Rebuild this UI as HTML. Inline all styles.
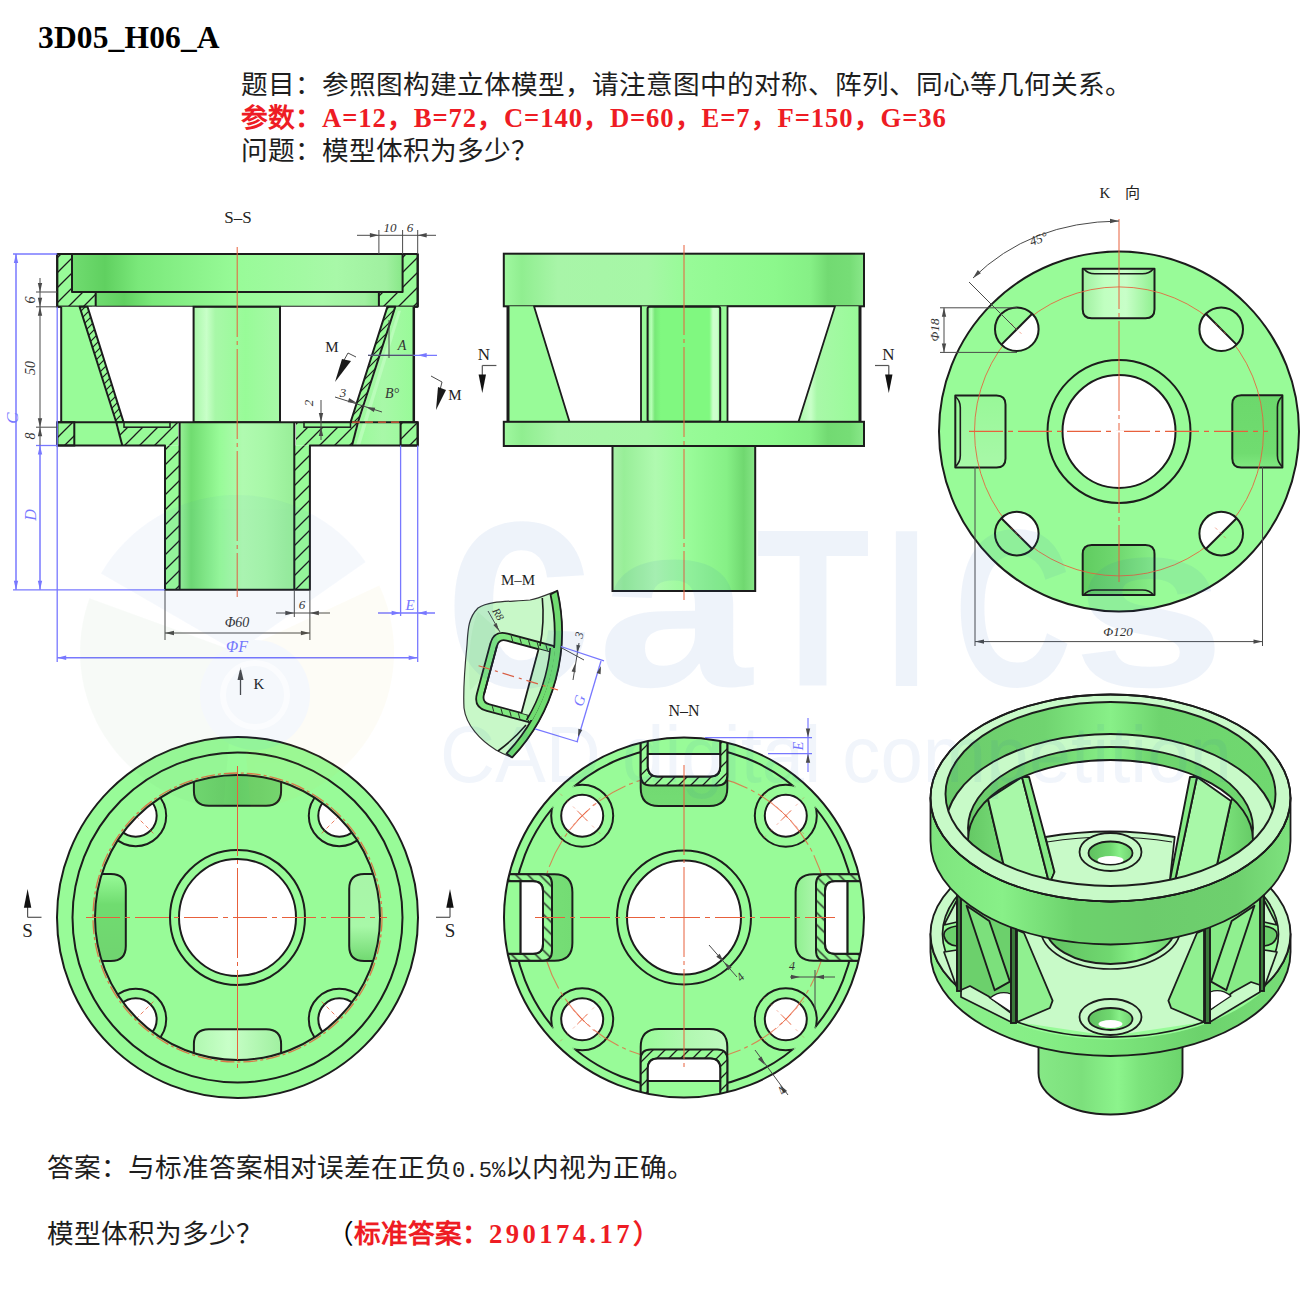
<!DOCTYPE html>
<html lang="zh-CN"><head><meta charset="utf-8">
<style>
html,body{margin:0;padding:0;background:#fff;}
body{width:1300px;height:1293px;position:relative;overflow:hidden;font-family:"Liberation Serif",serif;}
.t{position:absolute;white-space:pre;line-height:1;}
.cj{font-size:26.67px;color:#1e1e1e;}
.red{color:#ee1c24;}
.mono{font-family:"Liberation Serif",serif;font-weight:bold;letter-spacing:0.9px;}
.ttl{font-family:"Liberation Serif",serif;font-weight:bold;letter-spacing:0.15px;}
.hw{font-family:"Liberation Mono",monospace;font-size:22.2px;}
svg{position:absolute;left:0;top:0;}
</style></head><body>
<svg width="1300" height="1293" viewBox="0 0 1300 1293" style="font-family:'Liberation Serif',serif"><defs><pattern id="hat" patternUnits="userSpaceOnUse" width="15" height="15"><rect width="15" height="15" fill="#98fb98"/><path d="M0,15 L15,0 M-1,1 L1,-1 M14,16 L16,14" stroke="#1c1c1c" stroke-width="1.3"/></pattern><pattern id="hat2" patternUnits="userSpaceOnUse" width="8" height="8"><rect width="8" height="8" fill="#98fb98"/><path d="M0,8 L8,0 M-1,1 L1,-1 M7,9 L9,7" stroke="#1c1c1c" stroke-width="1.2"/></pattern><pattern id="hatN" patternUnits="userSpaceOnUse" width="12" height="12"><rect width="12" height="12" fill="#98fb98"/><path d="M0,12 L12,0 M-1,1 L1,-1 M11,13 L13,11" stroke="#1c1c1c" stroke-width="1.3"/></pattern><linearGradient id="gband" x1="0" y1="0" x2="1" y2="0"><stop offset="0" stop-color="#a0f8a0"/><stop offset="0.05" stop-color="#90ee90"/><stop offset="0.15" stop-color="#a8f5a8"/><stop offset="0.4" stop-color="#a6f7a6"/><stop offset="0.5" stop-color="#98fb98"/><stop offset="0.75" stop-color="#8cf88c"/><stop offset="0.85" stop-color="#86f086"/><stop offset="0.9" stop-color="#72da72"/><stop offset="0.96" stop-color="#76dd76"/><stop offset="1" stop-color="#8ae88a"/></linearGradient><linearGradient id="gtube" x1="0" y1="0" x2="1" y2="0"><stop offset="0" stop-color="#a8f0a8"/><stop offset="0.08" stop-color="#98ee98"/><stop offset="0.3" stop-color="#b0fab0"/><stop offset="0.55" stop-color="#98fb98"/><stop offset="0.8" stop-color="#86f086"/><stop offset="0.92" stop-color="#70d870"/><stop offset="1" stop-color="#86e686"/></linearGradient><linearGradient id="gcol" x1="0" y1="0" x2="1" y2="0"><stop offset="0" stop-color="#80f880"/><stop offset="0.05" stop-color="#b8ffb8"/><stop offset="0.1" stop-color="#78e878"/><stop offset="0.18" stop-color="#80f880"/><stop offset="0.85" stop-color="#80f880"/><stop offset="0.9" stop-color="#ccffcc"/><stop offset="0.96" stop-color="#ccffcc"/><stop offset="1" stop-color="#80f880"/></linearGradient><linearGradient id="gflS" x1="0" y1="0" x2="1" y2="0"><stop offset="0" stop-color="#70dc70"/><stop offset="0.1" stop-color="#60d060"/><stop offset="0.2" stop-color="#7ae87a"/><stop offset="0.5" stop-color="#98fb98"/><stop offset="0.8" stop-color="#a8f8a8"/><stop offset="0.95" stop-color="#a0f0a0"/><stop offset="1" stop-color="#88e888"/></linearGradient><linearGradient id="gtubeS" x1="0" y1="0" x2="1" y2="0"><stop offset="0" stop-color="#98f098"/><stop offset="0.1" stop-color="#70dc70"/><stop offset="0.35" stop-color="#98fb98"/><stop offset="0.55" stop-color="#b0fab0"/><stop offset="0.75" stop-color="#a8f8a8"/><stop offset="1" stop-color="#98ee98"/></linearGradient><linearGradient id="grib" x1="0" y1="0" x2="1" y2="0"><stop offset="0" stop-color="#98fb98"/><stop offset="0.5" stop-color="#a8f8a8"/><stop offset="1" stop-color="#98fb98"/></linearGradient><linearGradient id="gutubeS" x1="0" y1="0" x2="1" y2="0"><stop offset="0" stop-color="#a8f8a8"/><stop offset="0.15" stop-color="#c8ffc8"/><stop offset="0.25" stop-color="#a8f8a8"/><stop offset="0.6" stop-color="#98fb98"/><stop offset="1" stop-color="#a8f8a8"/></linearGradient><linearGradient id="gslotL" x1="0" y1="0" x2="1" y2="0"><stop offset="0" stop-color="#a0f0a0"/><stop offset="0.3" stop-color="#c0ffc0"/><stop offset="0.6" stop-color="#c8ffc8"/><stop offset="1" stop-color="#90f090"/></linearGradient><linearGradient id="gslotL2" x1="0" y1="0" x2="0" y2="1"><stop offset="0" stop-color="#98f898"/><stop offset="1" stop-color="#a8f8a8"/></linearGradient><linearGradient id="gslotD" x1="0" y1="0" x2="0" y2="1"><stop offset="0" stop-color="#6cd86c"/><stop offset="0.8" stop-color="#70dc70"/><stop offset="1" stop-color="#80e880"/></linearGradient><linearGradient id="gslotD2" x1="0" y1="0" x2="1" y2="0"><stop offset="0" stop-color="#60cc60"/><stop offset="0.5" stop-color="#70d870"/><stop offset="1" stop-color="#88ee88"/></linearGradient><linearGradient id="gTVtop" x1="0" y1="0" x2="1" y2="0"><stop offset="0" stop-color="#70d870"/><stop offset="0.5" stop-color="#66cc66"/><stop offset="1" stop-color="#70d870"/></linearGradient><linearGradient id="gTVbot" x1="0" y1="0" x2="1" y2="0"><stop offset="0" stop-color="#b0f8b0"/><stop offset="0.4" stop-color="#c8ffc8"/><stop offset="1" stop-color="#a0f0a0"/></linearGradient><linearGradient id="gTVleft" x1="0" y1="0" x2="0" y2="1"><stop offset="0" stop-color="#98fb98"/><stop offset="0.35" stop-color="#70dc70"/><stop offset="1" stop-color="#70d470"/></linearGradient><linearGradient id="gTVright" x1="0" y1="0" x2="0" y2="1"><stop offset="0" stop-color="#a8f5a8"/><stop offset="0.6" stop-color="#a8f8a8"/><stop offset="1" stop-color="#70d870"/></linearGradient><linearGradient id="gNNdark" x1="0" y1="0" x2="0" y2="1"><stop offset="0" stop-color="#6cd46c"/><stop offset="1" stop-color="#74dc74"/></linearGradient><linearGradient id="gNNdarkL" x1="0" y1="0" x2="0" y2="1"><stop offset="0" stop-color="#98fb98"/><stop offset="0.3" stop-color="#78e078"/><stop offset="1" stop-color="#74dc74"/></linearGradient><linearGradient id="gNNlight" x1="0" y1="0" x2="1" y2="0"><stop offset="0" stop-color="#c0fac0"/><stop offset="0.5" stop-color="#b0f8b0"/><stop offset="1" stop-color="#98fb98"/></linearGradient><linearGradient id="gNNlight2" x1="0" y1="0" x2="0" y2="1"><stop offset="0" stop-color="#98fb98"/><stop offset="0.5" stop-color="#c0fac0"/><stop offset="1" stop-color="#90f090"/></linearGradient><linearGradient id="g3tube" x1="0" y1="0" x2="1" y2="0"><stop offset="0" stop-color="#86e886"/><stop offset="0.3" stop-color="#7ce07c"/><stop offset="0.55" stop-color="#8cf48c"/><stop offset="0.7" stop-color="#7ce47c"/><stop offset="1" stop-color="#6cd46c"/></linearGradient><linearGradient id="g3side" x1="0" y1="0" x2="1" y2="0"><stop offset="0" stop-color="#8cf08c"/><stop offset="0.3" stop-color="#86ee86"/><stop offset="0.5" stop-color="#7ce67c"/><stop offset="0.75" stop-color="#6cd26c"/><stop offset="1" stop-color="#78de78"/></linearGradient><linearGradient id="g3ring" x1="0" y1="0" x2="1" y2="0"><stop offset="0" stop-color="#7ee47e"/><stop offset="0.2" stop-color="#88f088"/><stop offset="0.4" stop-color="#6cd26c"/><stop offset="0.6" stop-color="#6ccc6c"/><stop offset="0.85" stop-color="#6ed06e"/><stop offset="1" stop-color="#7ee27e"/></linearGradient><linearGradient id="g3inner" x1="0" y1="0" x2="1" y2="0"><stop offset="0" stop-color="#6ccc6c"/><stop offset="0.3" stop-color="#70d470"/><stop offset="0.5" stop-color="#88f088"/><stop offset="0.65" stop-color="#6ed46e"/><stop offset="1" stop-color="#70d870"/></linearGradient><linearGradient id="g3hole" x1="0" y1="0" x2="1" y2="0"><stop offset="0" stop-color="#60c060"/><stop offset="0.5" stop-color="#70d870"/><stop offset="0.7" stop-color="#88f088"/><stop offset="1" stop-color="#70d070"/></linearGradient><linearGradient id="g3coneL" x1="0" y1="0" x2="1" y2="0"><stop offset="0" stop-color="#60c460"/><stop offset="1" stop-color="#78dc78"/></linearGradient><linearGradient id="g3coneR" x1="0" y1="0" x2="1" y2="0"><stop offset="0" stop-color="#80e880"/><stop offset="1" stop-color="#60c460"/></linearGradient><linearGradient id="gutube" x1="0" y1="0" x2="1" y2="0"><stop offset="0" stop-color="#a8f8a8"/><stop offset="0.2" stop-color="#c8ffc8"/><stop offset="0.3" stop-color="#a8f8a8"/><stop offset="1" stop-color="#98fb98"/></linearGradient><clipPath id="clipTV"><circle cx="237.5" cy="917.5" r="142.5"/></clipPath><clipPath id="clipNN"><circle cx="684" cy="917.5" r="180"/></clipPath><clipPath id="clipNN171"><circle cx="684" cy="917.5" r="171"/></clipPath><mask id="maskNN" maskUnits="userSpaceOnUse" x="0" y="0" width="1300" height="1293"><rect width="1300" height="1293" fill="#fff"/><circle cx="785.8" cy="815.7" r="31" fill="#000"/><circle cx="582.2" cy="815.7" r="31" fill="#000"/><circle cx="582.2" cy="1019.3" r="31" fill="#000"/><circle cx="785.8" cy="1019.3" r="31" fill="#000"/></mask><clipPath id="clipMM"><path d="M557.3,590.7 C548,594 540,598 530,600 C510,602 490,600 478,608 C468,618 468,630 467,645 C465,665 463,690 464,708 C466,725 480,740 496,750 C503,754 508,756 512.2,757.4 A183,183 0 0 0 557.3,590.7 Z"/></clipPath><clipPath id="clipE2"><ellipse cx="1110.5" cy="794" rx="165" ry="92"/></clipPath><clipPath id="clipE5"><ellipse cx="1110.5" cy="840" rx="142.5" ry="80"/></clipPath></defs><rect x="503.8" y="253.7" width="360.2" height="52.6" rx="0" fill="url(#gband)" stroke="#1c1c1c" stroke-width="2" /><polygon points="508.0,306.3 534.0,306.3 569.5,421.8 508.0,421.8" fill="#98fb98" stroke="#1c1c1c" stroke-width="0" stroke-linejoin="round" stroke="none"/><polygon points="835.0,306.3 860.0,306.3 860.0,421.8 798.5,421.8" fill="url(#gutube)" stroke="#1c1c1c" stroke-width="0" stroke-linejoin="round" stroke="none"/><rect x="641.0" y="306.3" width="86.5" height="115.5" rx="0" fill="#98fb98" stroke="#1c1c1c" stroke-width="0" stroke="none"/><polygon points="534.0,306.3 641.0,306.3 641.0,421.8 569.5,421.8" fill="#fff" stroke="#1c1c1c" stroke-width="1.8" stroke-linejoin="round" /><polygon points="727.5,306.3 835.0,306.3 798.5,421.8 727.5,421.8" fill="#fff" stroke="#1c1c1c" stroke-width="1.8" stroke-linejoin="round" /><rect x="647.6" y="306.8" width="72.6" height="115.0" rx="2" fill="url(#gcol)" stroke="#1c1c1c" stroke-width="2" /><line x1="508.0" y1="306.0" x2="508.0" y2="422.0" stroke="#1c1c1c" stroke-width="3" /><line x1="860.0" y1="306.0" x2="860.0" y2="422.0" stroke="#1c1c1c" stroke-width="3" /><rect x="503.8" y="421.8" width="360.2" height="24.2" rx="0" fill="url(#gband)" stroke="#1c1c1c" stroke-width="2" /><rect x="612.5" y="446.0" width="142.7" height="145.0" rx="0" fill="url(#gtube)" stroke="#1c1c1c" stroke-width="2" /><line x1="684.0" y1="245.0" x2="684.0" y2="600.0" stroke="#e8603c" stroke-width="1" stroke-dasharray="90 4 4 4"/><line x1="482.3" y1="365.5" x2="496.4" y2="365.5" stroke="#555" stroke-width="1.2" /><line x1="482.3" y1="365.5" x2="482.3" y2="375.0" stroke="#555" stroke-width="1.2" /><polygon points="478.6,374.5 486.0,374.5 482.3,393" fill="#111"/><text x="483.8" y="360.0" font-size="17" fill="#222" text-anchor="middle" style="" >N</text><line x1="888.8" y1="365.5" x2="875.0" y2="365.5" stroke="#555" stroke-width="1.2" /><line x1="888.8" y1="365.5" x2="888.8" y2="375.0" stroke="#555" stroke-width="1.2" /><polygon points="885.0999999999999,374.5 892.5,374.5 888.8,393" fill="#111"/><text x="888.3" y="360.0" font-size="17" fill="#222" text-anchor="middle" style="" >N</text><rect x="72.0" y="254.0" width="330.6" height="38.0" rx="0" fill="url(#gflS)" stroke="#1c1c1c" stroke-width="0" stroke="none"/><rect x="95.7" y="292.0" width="283.2" height="14.8" rx="0" fill="url(#gflS)" stroke="#1c1c1c" stroke-width="0" stroke="none"/><polygon points="57.2,254.0 72.0,254.0 72.0,292.0 95.7,292.0 95.7,306.8 57.2,306.8" fill="url(#hat)" stroke="#1c1c1c" stroke-width="2" stroke-linejoin="round" /><polygon points="417.7,254.0 402.6,254.0 402.6,292.0 378.9,292.0 378.9,306.8 417.7,306.8" fill="url(#hat)" stroke="#1c1c1c" stroke-width="2" stroke-linejoin="round" /><line x1="72.0" y1="292.0" x2="402.6" y2="292.0" stroke="#1c1c1c" stroke-width="2" /><line x1="57.2" y1="254.0" x2="417.7" y2="254.0" stroke="#1c1c1c" stroke-width="2" /><line x1="57.2" y1="306.8" x2="417.7" y2="306.8" stroke="#1c1c1c" stroke-width="2" /><polygon points="61.2,306.8 79.6,306.8 122.3,445.5 61.2,445.5" fill="#98fb98" stroke="#1c1c1c" stroke-width="0" stroke-linejoin="round" stroke="none"/><polygon points="413.8,306.8 395.3,306.8 352.0,445.5 413.8,445.5" fill="url(#grib)" stroke="#1c1c1c" stroke-width="0" stroke-linejoin="round" stroke="none"/><polygon points="92.0,306.8 96.0,306.8 124.0,440.5 120.0,440.5" fill="#c8ffc8" stroke="#1c1c1c" stroke-width="0" stroke-linejoin="round" stroke="none" opacity="0.6"/><polygon points="398.0,310.8 401.0,310.8 360.0,445.5 356.0,445.5" fill="#c8ffc8" stroke="#1c1c1c" stroke-width="0" stroke-linejoin="round" stroke="none" opacity="0.6"/><polygon points="87.5,306.8 193.6,306.8 193.6,422.2 123.6,422.2" fill="#fff" stroke="#1c1c1c" stroke-width="0" stroke-linejoin="round" stroke="none"/><polygon points="387.4,306.8 280.0,306.8 280.0,422.2 350.6,422.2" fill="#fff" stroke="#1c1c1c" stroke-width="0" stroke-linejoin="round" stroke="none"/><rect x="193.6" y="306.8" width="86.4" height="115.4" rx="0" fill="url(#gutubeS)" stroke="#1c1c1c" stroke-width="2" /><polygon points="79.6,306.8 87.5,306.8 123.6,422.2 116.2,422.2" fill="url(#hat2)" stroke="#1c1c1c" stroke-width="2" stroke-linejoin="round" /><polygon points="395.3,306.8 387.4,306.8 350.6,422.2 358.0,422.2" fill="url(#hat2)" stroke="#1c1c1c" stroke-width="2" stroke-linejoin="round" /><polygon points="116.2,422.2 178.2,422.2 178.2,445.5 122.3,445.5" fill="url(#hat)" stroke="#1c1c1c" stroke-width="0" stroke-linejoin="round" stroke="none"/><polygon points="358.0,422.2 296.0,422.2 296.0,445.5 352.0,445.5" fill="url(#hat)" stroke="#1c1c1c" stroke-width="0" stroke-linejoin="round" stroke="none"/><rect x="124.0" y="422.2" width="46.0" height="5.0" rx="0" fill="#98fb98" stroke="#1c1c1c" stroke-width="1.5" /><rect x="304.0" y="422.2" width="46.5" height="5.0" rx="0" fill="#98fb98" stroke="#1c1c1c" stroke-width="1.5" /><rect x="57.2" y="422.2" width="17.1" height="23.3" rx="0" fill="url(#hat)" stroke="#1c1c1c" stroke-width="2" /><rect x="400.6" y="422.2" width="17.1" height="23.3" rx="0" fill="url(#hat)" stroke="#1c1c1c" stroke-width="2" /><rect x="179.6" y="422.2" width="114.7" height="167.6" rx="0" fill="url(#gtubeS)" stroke="#1c1c1c" stroke-width="0" stroke="none"/><rect x="165.0" y="445.5" width="14.6" height="144.3" rx="0" fill="url(#hat)" stroke="#1c1c1c" stroke-width="0" stroke="none"/><rect x="294.3" y="445.5" width="15.6" height="144.3" rx="0" fill="url(#hat)" stroke="#1c1c1c" stroke-width="0" stroke="none"/><path d="M57.2,422.2 L417.7,422.2" fill="none" stroke="#1c1c1c" stroke-width="2" stroke-linejoin="round" /><path d="M57.2,445.5 L165,445.5 L165,589.8 L309.9,589.8 L309.9,445.5 L417.7,445.5" fill="none" stroke="#1c1c1c" stroke-width="2" stroke-linejoin="round" /><line x1="179.6" y1="422.2" x2="179.6" y2="589.8" stroke="#1c1c1c" stroke-width="2" /><line x1="294.3" y1="422.2" x2="294.3" y2="589.8" stroke="#1c1c1c" stroke-width="2" /><line x1="122.3" y1="445.5" x2="116.2" y2="422.2" stroke="#1c1c1c" stroke-width="2" /><line x1="352.0" y1="445.5" x2="358.0" y2="422.2" stroke="#1c1c1c" stroke-width="2" /><line x1="61.2" y1="306.8" x2="61.2" y2="422.2" stroke="#1c1c1c" stroke-width="2" /><line x1="413.8" y1="306.8" x2="413.8" y2="422.2" stroke="#1c1c1c" stroke-width="2.5" /><line x1="57.2" y1="422.2" x2="57.2" y2="445.5" stroke="#1c1c1c" stroke-width="2" /><line x1="417.7" y1="422.2" x2="417.7" y2="445.5" stroke="#1c1c1c" stroke-width="2" /><line x1="57.2" y1="254.0" x2="57.2" y2="306.8" stroke="#1c1c1c" stroke-width="2" /><line x1="417.7" y1="254.0" x2="417.7" y2="306.8" stroke="#1c1c1c" stroke-width="2" /><line x1="352.0" y1="422.2" x2="400.0" y2="422.2" stroke="#e8603c" stroke-width="1.2" stroke-dasharray="8 5"/><line x1="237.2" y1="247.0" x2="237.2" y2="597.0" stroke="#e8603c" stroke-width="1" stroke-dasharray="90 4 4 4"/><line x1="13.0" y1="254.0" x2="57.2" y2="254.0" stroke="#7878ff" stroke-width="1.3" /><line x1="13.0" y1="589.8" x2="165.0" y2="589.8" stroke="#7878ff" stroke-width="1.3" /><line x1="16.0" y1="254.0" x2="16.0" y2="589.8" stroke="#7878ff" stroke-width="1.5" /><polygon points="16.0,254.0 18.2,263.0 13.8,263.0" fill="#7878ff"/><polygon points="16.0,589.8 13.8,580.8 18.2,580.8" fill="#7878ff"/><text x="18.0" y="418.0" font-size="17" fill="#7878ff" text-anchor="middle" style="" transform="rotate(-90 18 418)" font-style="italic">C</text><line x1="57.2" y1="306.8" x2="57.2" y2="662.0" stroke="#7878ff" stroke-width="1.3" /><line x1="36.0" y1="292.0" x2="57.2" y2="292.0" stroke="#4a4a4a" stroke-width="1" /><line x1="36.0" y1="306.8" x2="57.2" y2="306.8" stroke="#4a4a4a" stroke-width="1" /><line x1="36.0" y1="427.2" x2="57.2" y2="427.2" stroke="#4a4a4a" stroke-width="1" /><line x1="36.0" y1="445.5" x2="57.2" y2="445.5" stroke="#7878ff" stroke-width="1.3" /><line x1="40.0" y1="278.0" x2="40.0" y2="427.2" stroke="#4a4a4a" stroke-width="1" /><polygon points="40.0,292.0 37.8,283.0 42.2,283.0" fill="#4a4a4a"/><polygon points="40.0,306.8 42.2,315.8 37.8,315.8" fill="#4a4a4a"/><polygon points="40.0,306.8 37.8,297.8 42.2,297.8" fill="#4a4a4a"/><polygon points="40.0,427.2 37.8,418.2 42.2,418.2" fill="#4a4a4a"/><polygon points="40.0,427.2 42.2,436.2 37.8,436.2" fill="#4a4a4a"/><line x1="40.0" y1="427.2" x2="40.0" y2="445.5" stroke="#4a4a4a" stroke-width="1" /><text x="35.0" y="300.0" font-size="14" fill="#333" text-anchor="middle" style="" transform="rotate(-90 35 300)" font-style="italic">6</text><text x="35.0" y="368.0" font-size="14" fill="#333" text-anchor="middle" style="" transform="rotate(-90 35 368)" font-style="italic">50</text><text x="35.0" y="436.0" font-size="14" fill="#333" text-anchor="middle" style="" transform="rotate(-90 35 436)" font-style="italic">8</text><line x1="40.0" y1="445.5" x2="40.0" y2="589.8" stroke="#7878ff" stroke-width="1.5" /><polygon points="40.0,445.5 42.2,454.5 37.8,454.5" fill="#7878ff"/><polygon points="40.0,589.8 37.8,580.8 42.2,580.8" fill="#7878ff"/><text x="36.0" y="515.0" font-size="16" fill="#7878ff" text-anchor="middle" style="" transform="rotate(-90 36 515)" font-style="italic">D</text><line x1="165.0" y1="589.8" x2="165.0" y2="640.0" stroke="#4a4a4a" stroke-width="1" /><line x1="309.9" y1="589.8" x2="309.9" y2="640.0" stroke="#4a4a4a" stroke-width="1" /><line x1="165.0" y1="633.0" x2="309.9" y2="633.0" stroke="#4a4a4a" stroke-width="1" /><polygon points="165.0,633.0 174.0,630.8 174.0,635.2" fill="#4a4a4a"/><polygon points="309.9,633.0 300.9,635.2 300.9,630.8" fill="#4a4a4a"/><text x="237.0" y="627.0" font-size="14" fill="#333" text-anchor="middle" style="" font-style="italic">Φ60</text><line x1="294.3" y1="589.8" x2="294.3" y2="617.0" stroke="#4a4a4a" stroke-width="1" /><line x1="276.0" y1="613.0" x2="330.0" y2="613.0" stroke="#4a4a4a" stroke-width="1" /><polygon points="294.3,613.0 285.3,615.2 285.3,610.8" fill="#4a4a4a"/><polygon points="309.9,613.0 318.9,610.8 318.9,615.2" fill="#4a4a4a"/><text x="302.0" y="609.0" font-size="13" fill="#333" text-anchor="middle" style="" font-style="italic">6</text><line x1="400.6" y1="445.5" x2="400.6" y2="616.0" stroke="#7878ff" stroke-width="1.3" /><line x1="417.7" y1="445.5" x2="417.7" y2="662.0" stroke="#7878ff" stroke-width="1.3" /><line x1="378.0" y1="613.0" x2="435.0" y2="613.0" stroke="#7878ff" stroke-width="1.3" /><polygon points="400.6,613.0 391.6,615.2 391.6,610.8" fill="#7878ff"/><polygon points="417.7,613.0 426.7,610.8 426.7,615.2" fill="#7878ff"/><text x="410.0" y="610.0" font-size="15" fill="#7878ff" text-anchor="middle" style="" font-style="italic">E</text><line x1="57.2" y1="657.7" x2="417.7" y2="657.7" stroke="#7878ff" stroke-width="1.5" /><polygon points="57.2,657.7 66.2,655.5 66.2,659.9" fill="#7878ff"/><polygon points="417.7,657.7 408.7,659.9 408.7,655.5" fill="#7878ff"/><text x="237.0" y="652.0" font-size="16" fill="#7878ff" text-anchor="middle" style="" font-style="italic">ΦF</text><line x1="378.9" y1="230.0" x2="378.9" y2="254.0" stroke="#4a4a4a" stroke-width="1" /><line x1="402.6" y1="230.0" x2="402.6" y2="254.0" stroke="#4a4a4a" stroke-width="1" /><line x1="417.7" y1="230.0" x2="417.7" y2="254.0" stroke="#4a4a4a" stroke-width="1" /><line x1="357.0" y1="235.3" x2="436.0" y2="235.3" stroke="#4a4a4a" stroke-width="1" /><polygon points="378.9,235.3 369.9,237.5 369.9,233.1" fill="#4a4a4a"/><polygon points="417.7,235.3 426.7,233.1 426.7,237.5" fill="#4a4a4a"/><text x="390.0" y="232.0" font-size="13" fill="#333" text-anchor="middle" style="" font-style="italic">10</text><text x="410.0" y="232.0" font-size="13" fill="#333" text-anchor="middle" style="" font-style="italic">6</text><line x1="368.0" y1="355.3" x2="437.0" y2="355.3" stroke="#7878ff" stroke-width="1.3" /><line x1="368.0" y1="355.3" x2="413.8" y2="355.3" stroke="#4a4a4a" stroke-width="1" /><polygon points="417.7,355.3 426.7,353.1 426.7,357.5" fill="#7878ff"/><line x1="389.0" y1="320.0" x2="389.0" y2="358.0" stroke="#4a4a4a" stroke-width="1" /><text x="402.0" y="350.0" font-size="14" fill="#333" text-anchor="middle" style="" font-style="italic">A</text><text x="392.0" y="398.0" font-size="14" fill="#333" text-anchor="middle" style="" font-style="italic">B°</text><line x1="335.0" y1="397.0" x2="382.0" y2="412.0" stroke="#4a4a4a" stroke-width="1" /><polygon points="357.0,403.0 347.8,402.3 349.1,398.1" fill="#4a4a4a"/><polygon points="366.0,407.0 375.2,407.7 373.9,411.9" fill="#4a4a4a"/><text x="343.0" y="397.0" font-size="13" fill="#333" text-anchor="middle" style="" font-style="italic">3</text><line x1="321.0" y1="400.0" x2="321.0" y2="440.0" stroke="#4a4a4a" stroke-width="1" /><polygon points="321.0,422.0 318.8,413.0 323.2,413.0" fill="#4a4a4a"/><polygon points="321.0,427.0 323.2,436.0 318.8,436.0" fill="#4a4a4a"/><text x="313.0" y="403.0" font-size="13" fill="#333" text-anchor="middle" style="" font-style="italic" transform="rotate(-90 313 403)">2</text><path d="M343,362 L348,353 L356,357" fill="none" stroke="#4a4a4a" stroke-width="1" stroke-linejoin="round" /><polygon points="351,361 342,359 335,382" fill="#1a1a1a"/><text x="332.0" y="352.0" font-size="15" fill="#222" text-anchor="middle" style="" >M</text><path d="M431,376 L442,382 L440,390" fill="none" stroke="#4a4a4a" stroke-width="1" stroke-linejoin="round" /><polygon points="446,390 438,387 436,410" fill="#1a1a1a"/><text x="455.0" y="400.0" font-size="15" fill="#222" text-anchor="middle" style="" >M</text><line x1="240.5" y1="675.0" x2="240.5" y2="695.0" stroke="#4a4a4a" stroke-width="1.3" /><polygon points="240.5,667.0 243.5,680.0 237.5,680.0" fill="#4a4a4a"/><text x="259.0" y="689.0" font-size="15" fill="#222" text-anchor="middle" style="" >K</text><text x="238.0" y="223.0" font-size="17" fill="#222" text-anchor="middle" style="" >S–S</text><circle cx="1119.0" cy="431.4" r="180.0" fill="#98fb98" stroke="#1c1c1c" stroke-width="2" /><circle cx="1119.0" cy="431.4" r="71.5" fill="#98fb98" stroke="#1c1c1c" stroke-width="2" /><circle cx="1119.0" cy="431.4" r="56.5" fill="#fff" stroke="#1c1c1c" stroke-width="2" /><path d="M1082.7,268.8 L1154.5,268.8 L1154.5,309.2 Q1154.5,318.2 1145.5,318.2 L1091.7,318.2 Q1082.7,318.2 1082.7,309.2 Z" fill="url(#gslotL)" stroke="#1c1c1c" stroke-width="2" stroke-linejoin="round" /><path d="M1083.7,268.8 Q1087.7,273.8 1094.7,273.8 L1142.5,273.8 Q1149.5,273.8 1153.5,268.8" fill="none" stroke="#1c1c1c" stroke-width="1.6" stroke-linejoin="round" /><path d="M955.3,395.5 L955.3,467.6 L996.5,467.6 Q1005.5,467.6 1005.5,458.6 L1005.5,404.5 Q1005.5,395.5 996.5,395.5 Z" fill="url(#gslotL2)" stroke="#1c1c1c" stroke-width="2" stroke-linejoin="round" /><path d="M955.3,396.5 Q960.3,400.5 960.3,407.5 L960.3,455.6 Q960.3,462.6 955.3,466.6" fill="none" stroke="#1c1c1c" stroke-width="1.6" stroke-linejoin="round" /><path d="M1282.4,395.3 L1282.4,467.6 L1241.3,467.6 Q1232.3,467.6 1232.3,458.6 L1232.3,404.3 Q1232.3,395.3 1241.3,395.3 Z" fill="url(#gslotD)" stroke="#1c1c1c" stroke-width="2" stroke-linejoin="round" /><path d="M1282.4,396.3 Q1277.4,400.3 1277.4,407.3 L1277.4,455.6 Q1277.4,462.6 1282.4,466.6" fill="none" stroke="#1c1c1c" stroke-width="1.6" stroke-linejoin="round" /><path d="M1082.7,595 L1154.5,595 L1154.5,554 Q1154.5,545 1145.5,545 L1091.7,545 Q1082.7,545 1082.7,554 Z" fill="url(#gslotD2)" stroke="#1c1c1c" stroke-width="2" stroke-linejoin="round" /><path d="M1083.7,595 Q1087.7,590 1094.7,590 L1142.5,590 Q1149.5,590 1153.5,595" fill="none" stroke="#1c1c1c" stroke-width="1.6" stroke-linejoin="round" /><circle cx="1119.0" cy="431.4" r="144.5" fill="none" stroke="#e8603c" stroke-width="1" opacity="0.85"/><path d="M1205.8,313.8 A21.8,21.8 0 0 0 1236.6,344.6 Z" fill="#fff" stroke="none" stroke-width="0" stroke-linejoin="round" /><line x1="1205.8" y1="313.8" x2="1236.6" y2="344.6" stroke="#1c1c1c" stroke-width="2" /><circle cx="1221.2" cy="329.2" r="21.8" fill="none" stroke="#1c1c1c" stroke-width="2" /><line x1="1215.2" y1="323.2" x2="1227.2" y2="335.2" stroke="#e8603c" stroke-width="0.8" stroke-dasharray="3 3" opacity="0.7"/><path d="M1001.4,344.6 A21.8,21.8 0 0 0 1032.2,313.8 Z" fill="#fff" stroke="none" stroke-width="0" stroke-linejoin="round" /><line x1="1001.4" y1="344.6" x2="1032.2" y2="313.8" stroke="#1c1c1c" stroke-width="2" /><circle cx="1016.8" cy="329.2" r="21.8" fill="none" stroke="#1c1c1c" stroke-width="2" /><line x1="1010.8" y1="323.2" x2="1022.8" y2="335.2" stroke="#e8603c" stroke-width="0.8" stroke-dasharray="3 3" opacity="0.7"/><path d="M1032.2,549.0 A21.8,21.8 0 0 0 1001.4,518.2 Z" fill="#fff" stroke="none" stroke-width="0" stroke-linejoin="round" /><line x1="1032.2" y1="549.0" x2="1001.4" y2="518.2" stroke="#1c1c1c" stroke-width="2" /><circle cx="1016.8" cy="533.6" r="21.8" fill="none" stroke="#1c1c1c" stroke-width="2" /><line x1="1010.8" y1="527.6" x2="1022.8" y2="539.6" stroke="#e8603c" stroke-width="0.8" stroke-dasharray="3 3" opacity="0.7"/><path d="M1236.6,518.2 A21.8,21.8 0 0 0 1205.8,549.0 Z" fill="#fff" stroke="none" stroke-width="0" stroke-linejoin="round" /><line x1="1236.6" y1="518.2" x2="1205.8" y2="549.0" stroke="#1c1c1c" stroke-width="2" /><circle cx="1221.2" cy="533.6" r="21.8" fill="none" stroke="#1c1c1c" stroke-width="2" /><line x1="1215.2" y1="527.6" x2="1227.2" y2="539.6" stroke="#e8603c" stroke-width="0.8" stroke-dasharray="3 3" opacity="0.7"/><line x1="1119.0" y1="219.0" x2="1119.0" y2="582.0" stroke="#e8603c" stroke-width="1" stroke-dasharray="90 4 4 4"/><line x1="969.0" y1="431.4" x2="1268.0" y2="431.4" stroke="#e8603c" stroke-width="1.2" stroke-dasharray="34 5 5 5"/><rect x="1114" y="430.4" width="10" height="2" fill="#fff"/><line x1="975.0" y1="467.0" x2="975.0" y2="646.0" stroke="#4a4a4a" stroke-width="1" /><line x1="1262.5" y1="467.0" x2="1262.5" y2="646.0" stroke="#4a4a4a" stroke-width="1" /><line x1="975.0" y1="641.6" x2="1262.5" y2="641.6" stroke="#4a4a4a" stroke-width="1" /><polygon points="975.0,641.6 984.0,639.4 984.0,643.8" fill="#4a4a4a"/><polygon points="1262.5,641.6 1253.5,643.8 1253.5,639.4" fill="#4a4a4a"/><text x="1118.0" y="636.0" font-size="13" fill="#333" text-anchor="middle" style="" font-style="italic">Φ120</text><line x1="940.0" y1="307.8" x2="1017.0" y2="307.8" stroke="#4a4a4a" stroke-width="1" /><line x1="940.0" y1="352.4" x2="1017.0" y2="352.4" stroke="#4a4a4a" stroke-width="1" /><line x1="944.0" y1="307.8" x2="944.0" y2="352.4" stroke="#4a4a4a" stroke-width="1" /><polygon points="944.0,307.8 946.2,316.8 941.8,316.8" fill="#4a4a4a"/><polygon points="944.0,352.4 941.8,343.4 946.2,343.4" fill="#4a4a4a"/><text x="939.0" y="330.0" font-size="13" fill="#333" text-anchor="middle" style="" transform="rotate(-90 939 330)" font-style="italic">Φ18</text><line x1="969.0" y1="282.0" x2="1017.0" y2="330.0" stroke="#4a4a4a" stroke-width="1" /><path d="M973,278 Q1030,222 1119,221" fill="none" stroke="#4a4a4a" stroke-width="1" stroke-linejoin="round" /><polygon points="1119.0,221.0 1110.0,223.2 1110.0,218.8" fill="#4a4a4a"/><polygon points="973.0,278.0 977.8,270.1 980.9,273.2" fill="#4a4a4a"/><text x="1040.0" y="243.0" font-size="13" fill="#333" text-anchor="middle" style="" transform="rotate(-20 1040 243)" font-style="italic">45°</text><text x="1105.0" y="198.0" font-size="15" fill="#222" text-anchor="middle" style="" >K</text><text x="1132.0" y="198.0" font-size="15" fill="#222" text-anchor="middle" style="" >向</text><circle cx="237.5" cy="917.5" r="180.5" fill="#98fb98" stroke="#1c1c1c" stroke-width="2" /><circle cx="237.5" cy="917.5" r="165.0" fill="none" stroke="#1c1c1c" stroke-width="2" /><g clip-path="url(#clipTV)"><path d="M193.9,760 L193.9,790.8 Q193.9,805.8 208.9,805.8 L266.1,805.8 Q281.1,805.8 281.1,790.8 L281.1,760 Z" fill="url(#gTVtop)" stroke="#1c1c1c" stroke-width="2" stroke-linejoin="round" /><path d="M193.9,1075 L193.9,1044.2 Q193.9,1029.2 208.9,1029.2 L266.1,1029.2 Q281.1,1029.2 281.1,1044.2 L281.1,1075 Z" fill="url(#gTVbot)" stroke="#1c1c1c" stroke-width="2" stroke-linejoin="round" /><path d="M80,873.9 L110.8,873.9 Q125.8,873.9 125.8,888.9 L125.8,946.1 Q125.8,961.1 110.8,961.1 L80,961.1 Z" fill="url(#gTVleft)" stroke="#1c1c1c" stroke-width="2" stroke-linejoin="round" /><path d="M395,873.9 L364.2,873.9 Q349.2,873.9 349.2,888.9 L349.2,946.1 Q349.2,961.1 364.2,961.1 L395,961.1 Z" fill="url(#gTVright)" stroke="#1c1c1c" stroke-width="2" stroke-linejoin="round" /><circle cx="339.3" cy="815.7" r="30.5" fill="#98fb98" stroke="#1c1c1c" stroke-width="2" /><circle cx="339.3" cy="815.7" r="21.0" fill="#fff" stroke="#1c1c1c" stroke-width="2" /><line x1="321.6" y1="833.4" x2="357.0" y2="798.0" stroke="#e8603c" stroke-width="0.8" stroke-dasharray="4 3"/><circle cx="135.7" cy="815.7" r="30.5" fill="#98fb98" stroke="#1c1c1c" stroke-width="2" /><circle cx="135.7" cy="815.7" r="21.0" fill="#fff" stroke="#1c1c1c" stroke-width="2" /><line x1="153.4" y1="833.4" x2="118.0" y2="798.0" stroke="#e8603c" stroke-width="0.8" stroke-dasharray="4 3"/><circle cx="135.7" cy="1019.3" r="30.5" fill="#98fb98" stroke="#1c1c1c" stroke-width="2" /><circle cx="135.7" cy="1019.3" r="21.0" fill="#fff" stroke="#1c1c1c" stroke-width="2" /><line x1="153.4" y1="1001.6" x2="118.0" y2="1037.0" stroke="#e8603c" stroke-width="0.8" stroke-dasharray="4 3"/><circle cx="339.3" cy="1019.3" r="30.5" fill="#98fb98" stroke="#1c1c1c" stroke-width="2" /><circle cx="339.3" cy="1019.3" r="21.0" fill="#fff" stroke="#1c1c1c" stroke-width="2" /><line x1="321.6" y1="1001.6" x2="357.0" y2="1037.0" stroke="#e8603c" stroke-width="0.8" stroke-dasharray="4 3"/></g><circle cx="237.5" cy="917.5" r="142.5" fill="none" stroke="#1c1c1c" stroke-width="2" /><circle cx="237.5" cy="917.5" r="144.5" fill="none" stroke="#e8603c" stroke-width="1.3" stroke-dasharray="14 3 3 3" opacity="0.85"/><circle cx="237.5" cy="917.5" r="67.5" fill="#98fb98" stroke="#1c1c1c" stroke-width="2" /><circle cx="237.5" cy="917.5" r="58.5" fill="#fff" stroke="#1c1c1c" stroke-width="2" /><line x1="237.5" y1="766.0" x2="237.5" y2="1068.0" stroke="#e8603c" stroke-width="1" stroke-dasharray="90 4 4 4"/><line x1="86.0" y1="917.5" x2="387.0" y2="917.5" stroke="#e8603c" stroke-width="1.2" stroke-dasharray="34 5 5 5"/><line x1="27.6" y1="917.3" x2="41.5" y2="917.3" stroke="#555" stroke-width="1.2" /><line x1="27.6" y1="907.0" x2="27.6" y2="917.3" stroke="#555" stroke-width="1.2" /><polygon points="23.900000000000002,907.7 31.3,907.7 27.6,889" fill="#111"/><text x="27.6" y="936.5" font-size="19" fill="#222" text-anchor="middle" style="" >S</text><line x1="450.0" y1="917.3" x2="436.0" y2="917.3" stroke="#555" stroke-width="1.2" /><line x1="450.0" y1="907.0" x2="450.0" y2="917.3" stroke="#555" stroke-width="1.2" /><polygon points="446.3,907.7 453.7,907.7 450,889" fill="#111"/><text x="450.0" y="936.5" font-size="19" fill="#222" text-anchor="middle" style="" >S</text><circle cx="684.0" cy="917.5" r="180.0" fill="#98fb98" stroke="#1c1c1c" stroke-width="0" stroke="none"/><circle cx="684.0" cy="917.5" r="171.0" fill="none" stroke="#1c1c1c" stroke-width="2" mask="url(#maskNN)"/><g clip-path="url(#clipNN171)"><circle cx="785.8" cy="815.7" r="31.0" fill="#98fb98" stroke="#1c1c1c" stroke-width="2" /><circle cx="582.2" cy="815.7" r="31.0" fill="#98fb98" stroke="#1c1c1c" stroke-width="2" /><circle cx="582.2" cy="1019.3" r="31.0" fill="#98fb98" stroke="#1c1c1c" stroke-width="2" /><circle cx="785.8" cy="1019.3" r="31.0" fill="#98fb98" stroke="#1c1c1c" stroke-width="2" /></g><circle cx="785.8" cy="815.7" r="21.0" fill="#fff" stroke="#1c1c1c" stroke-width="2" /><circle cx="582.2" cy="815.7" r="21.0" fill="#fff" stroke="#1c1c1c" stroke-width="2" /><circle cx="582.2" cy="1019.3" r="21.0" fill="#fff" stroke="#1c1c1c" stroke-width="2" /><circle cx="785.8" cy="1019.3" r="21.0" fill="#fff" stroke="#1c1c1c" stroke-width="2" /><circle cx="684.0" cy="917.5" r="144.0" fill="none" stroke="#e8603c" stroke-width="1.1" stroke-dasharray="30 4 4 4" opacity="0.75"/><line x1="780.8" y1="810.7" x2="790.8" y2="820.7" stroke="#e8603c" stroke-width="1" opacity="0.8"/><line x1="780.8" y1="820.7" x2="790.8" y2="810.7" stroke="#e8603c" stroke-width="1" opacity="0.8"/><line x1="763.8" y1="793.7" x2="807.8" y2="837.7" stroke="#e8603c" stroke-width="0.8" stroke-dasharray="3 6" opacity="0.5"/><line x1="763.8" y1="837.7" x2="807.8" y2="793.7" stroke="#e8603c" stroke-width="0.8" stroke-dasharray="3 6" opacity="0.5"/><line x1="577.2" y1="810.7" x2="587.2" y2="820.7" stroke="#e8603c" stroke-width="1" opacity="0.8"/><line x1="577.2" y1="820.7" x2="587.2" y2="810.7" stroke="#e8603c" stroke-width="1" opacity="0.8"/><line x1="560.2" y1="793.7" x2="604.2" y2="837.7" stroke="#e8603c" stroke-width="0.8" stroke-dasharray="3 6" opacity="0.5"/><line x1="560.2" y1="837.7" x2="604.2" y2="793.7" stroke="#e8603c" stroke-width="0.8" stroke-dasharray="3 6" opacity="0.5"/><line x1="577.2" y1="1014.3" x2="587.2" y2="1024.3" stroke="#e8603c" stroke-width="1" opacity="0.8"/><line x1="577.2" y1="1024.3" x2="587.2" y2="1014.3" stroke="#e8603c" stroke-width="1" opacity="0.8"/><line x1="560.2" y1="997.3" x2="604.2" y2="1041.3" stroke="#e8603c" stroke-width="0.8" stroke-dasharray="3 6" opacity="0.5"/><line x1="560.2" y1="1041.3" x2="604.2" y2="997.3" stroke="#e8603c" stroke-width="0.8" stroke-dasharray="3 6" opacity="0.5"/><line x1="780.8" y1="1014.3" x2="790.8" y2="1024.3" stroke="#e8603c" stroke-width="1" opacity="0.8"/><line x1="780.8" y1="1024.3" x2="790.8" y2="1014.3" stroke="#e8603c" stroke-width="1" opacity="0.8"/><line x1="763.8" y1="997.3" x2="807.8" y2="1041.3" stroke="#e8603c" stroke-width="0.8" stroke-dasharray="3 6" opacity="0.5"/><line x1="763.8" y1="1041.3" x2="807.8" y2="997.3" stroke="#e8603c" stroke-width="0.8" stroke-dasharray="3 6" opacity="0.5"/><g clip-path="url(#clipNN)"><g transform="rotate(0 684 917.5)"><path d="M640.7,735.5 L640.7,787.9 Q640.7,805.9 658.7,805.9 L709.3,805.9 Q727.3,805.9 727.3,787.9 L727.3,735.5 Z" fill="url(#gNNdark)" stroke="#1c1c1c" stroke-width="2" stroke-linejoin="round" /><path d="M640.7,735.5 L640.7,775.5 Q640.7,785.5 650.7,785.5 L717.3,785.5 Q727.3,785.5 727.3,775.5 L727.3,735.5 Z M647.8,735.5 L647.8,766.5 Q647.8,776.5 657.8,776.5 L710.2,776.5 Q720.2,776.5 720.2,766.5 L720.2,735.5 Z" fill="url(#hatN)" stroke="#1c1c1c" stroke-width="2" stroke-linejoin="round" fill-rule="evenodd"/><path d="M647.8,753.9 L647.8,766.5 Q647.8,776.5 657.8,776.5 L710.2,776.5 Q720.2,776.5 720.2,766.5 L720.2,753.9 Z" fill="#fff" stroke="#1c1c1c" stroke-width="2" stroke-linejoin="round" /><path d="M647.8,735.5 L647.8,753.9 L720.2,753.9 L720.2,735.5 Z" fill="#98fb98" stroke="#1c1c1c" stroke-width="2" stroke-linejoin="round" /></g><g transform="rotate(90 684 917.5)"><path d="M640.7,735.5 L640.7,787.9 Q640.7,805.9 658.7,805.9 L709.3,805.9 Q727.3,805.9 727.3,787.9 L727.3,735.5 Z" fill="url(#gNNlight2)" stroke="#1c1c1c" stroke-width="2" stroke-linejoin="round" /><path d="M640.7,735.5 L640.7,775.5 Q640.7,785.5 650.7,785.5 L717.3,785.5 Q727.3,785.5 727.3,775.5 L727.3,735.5 Z M647.8,735.5 L647.8,766.5 Q647.8,776.5 657.8,776.5 L710.2,776.5 Q720.2,776.5 720.2,766.5 L720.2,735.5 Z" fill="url(#hatN)" stroke="#1c1c1c" stroke-width="2" stroke-linejoin="round" fill-rule="evenodd"/><path d="M647.8,753.9 L647.8,766.5 Q647.8,776.5 657.8,776.5 L710.2,776.5 Q720.2,776.5 720.2,766.5 L720.2,753.9 Z" fill="#fff" stroke="#1c1c1c" stroke-width="2" stroke-linejoin="round" /><path d="M647.8,735.5 L647.8,753.9 L720.2,753.9 L720.2,735.5 Z" fill="#98fb98" stroke="#1c1c1c" stroke-width="2" stroke-linejoin="round" /></g><g transform="rotate(180 684 917.5)"><path d="M640.7,735.5 L640.7,787.9 Q640.7,805.9 658.7,805.9 L709.3,805.9 Q727.3,805.9 727.3,787.9 L727.3,735.5 Z" fill="url(#gNNlight)" stroke="#1c1c1c" stroke-width="2" stroke-linejoin="round" /><path d="M640.7,735.5 L640.7,775.5 Q640.7,785.5 650.7,785.5 L717.3,785.5 Q727.3,785.5 727.3,775.5 L727.3,735.5 Z M647.8,735.5 L647.8,766.5 Q647.8,776.5 657.8,776.5 L710.2,776.5 Q720.2,776.5 720.2,766.5 L720.2,735.5 Z" fill="url(#hatN)" stroke="#1c1c1c" stroke-width="2" stroke-linejoin="round" fill-rule="evenodd"/><path d="M647.8,753.9 L647.8,766.5 Q647.8,776.5 657.8,776.5 L710.2,776.5 Q720.2,776.5 720.2,766.5 L720.2,753.9 Z" fill="#fff" stroke="#1c1c1c" stroke-width="2" stroke-linejoin="round" /><path d="M647.8,735.5 L647.8,753.9 L720.2,753.9 L720.2,735.5 Z" fill="#98fb98" stroke="#1c1c1c" stroke-width="2" stroke-linejoin="round" /></g><g transform="rotate(270 684 917.5)"><path d="M640.7,735.5 L640.7,787.9 Q640.7,805.9 658.7,805.9 L709.3,805.9 Q727.3,805.9 727.3,787.9 L727.3,735.5 Z" fill="url(#gNNdarkL)" stroke="#1c1c1c" stroke-width="2" stroke-linejoin="round" /><path d="M640.7,735.5 L640.7,775.5 Q640.7,785.5 650.7,785.5 L717.3,785.5 Q727.3,785.5 727.3,775.5 L727.3,735.5 Z M647.8,735.5 L647.8,766.5 Q647.8,776.5 657.8,776.5 L710.2,776.5 Q720.2,776.5 720.2,766.5 L720.2,735.5 Z" fill="url(#hatN)" stroke="#1c1c1c" stroke-width="2" stroke-linejoin="round" fill-rule="evenodd"/><path d="M647.8,753.9 L647.8,766.5 Q647.8,776.5 657.8,776.5 L710.2,776.5 Q720.2,776.5 720.2,766.5 L720.2,753.9 Z" fill="#fff" stroke="#1c1c1c" stroke-width="2" stroke-linejoin="round" /><path d="M647.8,735.5 L647.8,753.9 L720.2,753.9 L720.2,735.5 Z" fill="#98fb98" stroke="#1c1c1c" stroke-width="2" stroke-linejoin="round" /></g></g><circle cx="684.0" cy="917.5" r="180.0" fill="none" stroke="#1c1c1c" stroke-width="2" /><circle cx="684.0" cy="917.5" r="67.0" fill="#98fb98" stroke="#1c1c1c" stroke-width="2" /><circle cx="684.0" cy="917.5" r="57.0" fill="#fff" stroke="#1c1c1c" stroke-width="2" /><line x1="684.0" y1="765.0" x2="684.0" y2="1070.0" stroke="#e8603c" stroke-width="1" stroke-dasharray="90 4 4 4"/><line x1="535.0" y1="917.5" x2="838.0" y2="917.5" stroke="#e8603c" stroke-width="1.2" stroke-dasharray="30 5 5 5"/><text x="684.0" y="716.0" font-size="16" fill="#222" text-anchor="middle" style="" >N–N</text><line x1="705.0" y1="737.6" x2="812.0" y2="737.6" stroke="#7878ff" stroke-width="1.2" /><line x1="768.0" y1="753.7" x2="812.0" y2="753.7" stroke="#7878ff" stroke-width="1.2" /><line x1="808.0" y1="718.0" x2="808.0" y2="772.0" stroke="#7878ff" stroke-width="1.2" /><polygon points="808.0,737.6 805.8,728.6 810.2,728.6" fill="#4a4a4a"/><polygon points="808.0,753.7 810.2,762.7 805.8,762.7" fill="#4a4a4a"/><text x="803.0" y="746.0" font-size="14" fill="#7878ff" text-anchor="middle" style="" transform="rotate(-90 803 746)" font-style="italic">E</text><line x1="709.0" y1="945.0" x2="737.0" y2="977.0" stroke="#4a4a4a" stroke-width="1" /><polygon points="724.0,962.0 716.3,956.8 719.6,953.8" fill="#4a4a4a"/><polygon points="724.0,962.0 731.7,967.2 728.4,970.2" fill="#4a4a4a"/><text x="743.0" y="980.0" font-size="12" fill="#333" text-anchor="middle" style="" transform="rotate(-45 743 980)" font-style="italic">4</text><line x1="790.0" y1="977.0" x2="835.0" y2="977.0" stroke="#4a4a4a" stroke-width="1" /><line x1="815.0" y1="970.0" x2="815.0" y2="1010.0" stroke="#4a4a4a" stroke-width="1" /><polygon points="800.0,977.0 791.0,979.2 791.0,974.8" fill="#4a4a4a"/><polygon points="815.0,977.0 824.0,974.8 824.0,979.2" fill="#4a4a4a"/><text x="792.0" y="970.0" font-size="12" fill="#333" text-anchor="middle" style="" font-style="italic">4</text><line x1="755.0" y1="1050.0" x2="788.0" y2="1095.0" stroke="#4a4a4a" stroke-width="1" /><polygon points="765.0,1065.0 757.9,1059.0 761.5,1056.4" fill="#4a4a4a"/><polygon points="780.0,1085.0 787.1,1091.0 783.5,1093.6" fill="#4a4a4a"/><text x="785.0" y="1093.0" font-size="12" fill="#333" text-anchor="middle" style="" transform="rotate(-60 785 1093)" font-style="italic">4</text><path d="M557.3,590.7 C548,594 540,598 530,600 C510,602 490,600 478,608 C468,618 468,630 467,645 C465,665 463,690 464,708 C466,725 480,740 496,750 C503,754 508,756 512.2,757.4 A183,183 0 0 0 557.3,590.7 Z" fill="#c8f8c8" stroke="#333" stroke-width="1.2" stroke-linejoin="round" /><path d="M478,612 C470,630 468,660 470,690 C485,680 492,650 498,630 Z" fill="#b8f0b8" stroke="none" stroke-width="0" stroke-linejoin="round" opacity="0.6"/><g clip-path="url(#clipMM)"><g transform="translate(494,630) rotate(15)"><path d="M14,0 L75,0 L75,80 L14,80 Q0,80 0,66 L0,14 Q0,0 14,0 Z" fill="#80e880" stroke="#1c1c1c" stroke-width="1.8" stroke-linejoin="round" /><path d="M15,7 L75,7 L75,73 L15,73 Q7,73 7,65 L7,15 Q7,7 15,7 Z" fill="#fff" stroke="#1c1c1c" stroke-width="1.8" stroke-linejoin="round" /><path d="M48,7 L75,7 L75,73 L48,73 Z" fill="#c8f8c8" stroke="#1c1c1c" stroke-width="0" stroke-linejoin="round" stroke="none"/><line x1="48.0" y1="7.0" x2="48.0" y2="73.0" stroke="#1c1c1c" stroke-width="1.8" /><line x1="7.0" y1="15.0" x2="7.0" y2="65.0" stroke="#1c1c1c" stroke-width="1.8" /><line x1="18.0" y1="1.0" x2="21.0" y2="6.0" stroke="#1c1c1c" stroke-width="0.8" /><line x1="18.0" y1="74.0" x2="21.0" y2="79.0" stroke="#1c1c1c" stroke-width="0.8" /><line x1="27.0" y1="1.0" x2="30.0" y2="6.0" stroke="#1c1c1c" stroke-width="0.8" /><line x1="27.0" y1="74.0" x2="30.0" y2="79.0" stroke="#1c1c1c" stroke-width="0.8" /><line x1="36.0" y1="1.0" x2="39.0" y2="6.0" stroke="#1c1c1c" stroke-width="0.8" /><line x1="36.0" y1="74.0" x2="39.0" y2="79.0" stroke="#1c1c1c" stroke-width="0.8" /><line x1="45.0" y1="1.0" x2="48.0" y2="6.0" stroke="#1c1c1c" stroke-width="0.8" /><line x1="45.0" y1="74.0" x2="48.0" y2="79.0" stroke="#1c1c1c" stroke-width="0.8" /><line x1="54.0" y1="1.0" x2="57.0" y2="6.0" stroke="#1c1c1c" stroke-width="0.8" /><line x1="54.0" y1="74.0" x2="57.0" y2="79.0" stroke="#1c1c1c" stroke-width="0.8" /><line x1="63.0" y1="1.0" x2="66.0" y2="6.0" stroke="#1c1c1c" stroke-width="0.8" /><line x1="63.0" y1="74.0" x2="66.0" y2="79.0" stroke="#1c1c1c" stroke-width="0.8" /></g></g><path d="M557.3,590.7 A183,183 0 0 1 512.2,757.4 L506.5,753.5 A175.5,175.5 0 0 0 550.5,594.5 Z" fill="#70dc70" stroke="#1c1c1c" stroke-width="1.8" stroke-linejoin="round" /><path d="M550.25,648 A171,171 0 0 1 526.6,720 L532.4,720 A176,176 0 0 0 555.3,648 Z" fill="#70dc70" stroke="none" stroke-width="0" stroke-linejoin="round" /><path d="M550.25,648 A171,171 0 0 1 526.6,720" fill="none" stroke="#1c1c1c" stroke-width="1.6" stroke-linejoin="round" /><path d="M542.3,598 A166,166 0 0 1 540,646" fill="none" stroke="#1c1c1c" stroke-width="1.6" stroke-linejoin="round" /><path d="M526,725 A166,166 0 0 1 498,751" fill="none" stroke="#1c1c1c" stroke-width="1.6" stroke-linejoin="round" /><line x1="478.6" y1="665.8" x2="558.0" y2="690.0" stroke="#e8603c" stroke-width="1.2" stroke-dasharray="12 5 3 5"/><text x="518.0" y="585.0" font-size="15" fill="#222" text-anchor="middle" style="" >M–M</text><line x1="488.0" y1="611.0" x2="500.0" y2="632.0" stroke="#4a4a4a" stroke-width="1" /><polygon points="499.0,631.0 493.3,625.1 496.7,623.1" fill="#4a4a4a"/><text x="495.0" y="616.0" font-size="11" fill="#333" text-anchor="middle" style="" transform="rotate(60 495 616)" font-style="italic">R8</text><line x1="560.0" y1="647.0" x2="584.0" y2="660.0" stroke="#4a4a4a" stroke-width="1" /><line x1="579.0" y1="643.0" x2="573.0" y2="680.0" stroke="#4a4a4a" stroke-width="1" /><polygon points="577.0,653.0 576.4,644.8 580.4,645.5" fill="#4a4a4a"/><polygon points="575.0,664.0 575.6,672.2 571.6,671.5" fill="#4a4a4a"/><text x="583.0" y="636.0" font-size="12" fill="#333" text-anchor="middle" style="" transform="rotate(-75 583 636)" font-style="italic">3</text><line x1="560.9" y1="646.5" x2="604.0" y2="660.8" stroke="#7878ff" stroke-width="1.3" /><line x1="535.0" y1="728.8" x2="578.0" y2="742.0" stroke="#7878ff" stroke-width="1.3" /><line x1="601.0" y1="661.0" x2="577.0" y2="742.0" stroke="#7878ff" stroke-width="1.3" /><polygon points="601.0,666.0 600.6,674.2 596.7,673.1" fill="#4a4a4a"/><polygon points="578.0,737.0 578.4,728.8 582.3,729.9" fill="#4a4a4a"/><text x="584.0" y="702.0" font-size="15" fill="#7878ff" text-anchor="middle" style="" transform="rotate(-73 584 702)" font-style="italic">G</text><path d="M1038.5,1040 L1038.5,1073 A72,41.5 0 0 0 1182.5,1073 L1182.5,1040 Z" fill="url(#g3tube)" stroke="#1c1c1c" stroke-width="1.9" stroke-linejoin="round" /><path d="M930.5,934 A180,100 0 0 0 1290.5,934 L1290.5,952 A180,104 0 0 1 930.5,952 Z" fill="url(#g3side)" stroke="#1c1c1c" stroke-width="1.9" stroke-linejoin="round" /><ellipse cx="1110.5" cy="934" rx="180" ry="100" fill="#c8fac8" stroke="#1c1c1c" stroke-width="1.9" /><ellipse cx="1110.5" cy="934" rx="168" ry="93" fill="#98fb98" stroke="#1c1c1c" stroke-width="1.7" /><polygon points="944.0,925.0 957.0,900.0 957.0,922.0" fill="#c8fac8" stroke="#1c1c1c" stroke-width="1.7" stroke-linejoin="round" /><path d="M957.0,926 Q943.0,928 944.0,936 Q946.0,945 957.0,946 Z" fill="#6cd06c" stroke="#1c1c1c" stroke-width="1.7" stroke-linejoin="round" /><polygon points="944.0,952.0 957.0,950.0 957.0,988.0" fill="#c8fac8" stroke="#1c1c1c" stroke-width="1.7" stroke-linejoin="round" /><polygon points="1277.0,925.0 1264.0,900.0 1264.0,922.0" fill="#c8fac8" stroke="#1c1c1c" stroke-width="1.7" stroke-linejoin="round" /><path d="M1264.0,926 Q1278.0,928 1277.0,936 Q1275.0,945 1264.0,946 Z" fill="#6cd06c" stroke="#1c1c1c" stroke-width="1.7" stroke-linejoin="round" /><polygon points="1277.0,952.0 1264.0,950.0 1264.0,988.0" fill="#c8fac8" stroke="#1c1c1c" stroke-width="1.7" stroke-linejoin="round" /><path d="M957,895 L957,990 A180,103.5 0 0 0 1264,990 L1264,895 Z" fill="#98fb98" stroke="#1c1c1c" stroke-width="0" stroke-linejoin="round" stroke="none"/><polygon points="961.0,897.0 1011.0,927.0 1011.0,1010.0 990.0,997.0 961.0,990.0" fill="#6cd06c" stroke="#1c1c1c" stroke-width="0" stroke-linejoin="round" stroke="none"/><polygon points="966.6,905.7 989.3,921.0 1009.9,981.6 994.7,990.2" fill="#7ce07c" stroke="#1c1c1c" stroke-width="1.9" stroke-linejoin="round" /><polygon points="961.0,990.0 970.0,986.0 988.0,996.0 1011.0,1013.0 1011.0,1022.0 961.0,997.0" fill="#c8fac8" stroke="#1c1c1c" stroke-width="1.7" stroke-linejoin="round" /><path d="M990,998 Q1000,990 1011,994 L1011,1012 Z" fill="#fff" stroke="#1c1c1c" stroke-width="1.2" stroke-linejoin="round" /><polygon points="1260.0,897.0 1210.0,927.0 1210.0,1010.0 1231.0,997.0 1260.0,990.0" fill="#86ea86" stroke="#1c1c1c" stroke-width="0" stroke-linejoin="round" stroke="none"/><polygon points="1254.4,905.7 1231.7,921.0 1211.1,981.6 1226.3,990.2" fill="#90f090" stroke="#1c1c1c" stroke-width="1.9" stroke-linejoin="round" /><polygon points="1260.0,985.0 1251.0,982.0 1233.0,992.0 1210.0,1010.0 1210.0,1022.0 1260.0,992.0" fill="#c8fac8" stroke="#1c1c1c" stroke-width="1.7" stroke-linejoin="round" /><path d="M1231,996 Q1221,988 1210,992 L1210,1010 Z" fill="#fff" stroke="#1c1c1c" stroke-width="1.2" stroke-linejoin="round" /><polygon points="1017.0,930.0 1204.0,930.0 1204.0,1022.0 1110.0,1036.0 1017.0,1022.0" fill="#c8fac8" stroke="#1c1c1c" stroke-width="0" stroke-linejoin="round" stroke="none"/><ellipse cx="1110.5" cy="928" rx="70" ry="41" fill="#c8fac8" stroke="#1c1c1c" stroke-width="1.7" /><ellipse cx="1110.5" cy="926" rx="65" ry="38" fill="url(#g3hole)" stroke="#1c1c1c" stroke-width="1.9" /><polygon points="1017.0,930.0 1024.0,933.0 1052.6,1000.6 1049.9,1008.0 1017.0,1022.0" fill="#90f090" stroke="#1c1c1c" stroke-width="1.8" stroke-linejoin="round" /><polygon points="1204.0,930.0 1197.0,933.0 1168.4,1000.6 1171.1,1008.0 1204.0,1022.0" fill="#90f090" stroke="#1c1c1c" stroke-width="1.8" stroke-linejoin="round" /><ellipse cx="1110.5" cy="1017" rx="31" ry="18" fill="#c8fac8" stroke="#1c1c1c" stroke-width="1.8" /><ellipse cx="1110.5" cy="1019" rx="22" ry="11" fill="url(#g3hole)" stroke="#1c1c1c" stroke-width="1.8" /><ellipse cx="1110.5" cy="1024" rx="12" ry="4" fill="#fff" stroke="#1c1c1c" stroke-width="0" stroke="none"/><path d="M1017,1022 A180,103.5 0 0 0 1204,1022" fill="none" stroke="#1c1c1c" stroke-width="1.7" stroke-linejoin="round" /><rect x="957.0" y="895.0" width="4.0" height="96.0" rx="0" fill="#3a7a3a" stroke="#1c1c1c" stroke-width="1.9" /><rect x="1011.0" y="927.0" width="5.0" height="96.0" rx="0" fill="#3a7a3a" stroke="#1c1c1c" stroke-width="1.9" /><rect x="1205.0" y="927.0" width="5.0" height="96.0" rx="0" fill="#3a7a3a" stroke="#1c1c1c" stroke-width="1.9" /><rect x="1260.0" y="895.0" width="4.0" height="96.0" rx="0" fill="#3a7a3a" stroke="#1c1c1c" stroke-width="1.9" /><path d="M930.5,798 A180,103.5 0 0 0 1290.5,798 L1290.5,841 A180,103.5 0 0 1 930.5,841 Z" fill="url(#g3ring)" stroke="#1c1c1c" stroke-width="1.8" stroke-linejoin="round" /><ellipse cx="1110.5" cy="798" rx="180" ry="103.5" fill="#c8fac8" stroke="#1c1c1c" stroke-width="1.8" /><g clip-path="url(#clipE2)"><ellipse cx="1110.5" cy="794" rx="165" ry="92" fill="url(#g3inner)" stroke="#1c1c1c" stroke-width="0" stroke="none"/><ellipse cx="1110.5" cy="828" rx="165" ry="94" fill="#c8fac8" stroke="#1c1c1c" stroke-width="1.9" /><ellipse cx="1110.5" cy="828" rx="142.5" ry="81" fill="url(#g3inner)" stroke="#1c1c1c" stroke-width="1.9" /><g clip-path="url(#clipE5)"><ellipse cx="1110.5" cy="840" rx="142.5" ry="80" fill="#fff" stroke="#1c1c1c" stroke-width="0" stroke="none"/><polygon points="960.0,760.0 988.0,799.0 1005.0,870.6 1005.0,900.0 960.0,900.0" fill="url(#g3coneL)" stroke="#1c1c1c" stroke-width="1.9" stroke-linejoin="round" /><polygon points="988.0,799.0 1022.0,777.0 1049.4,884.0 1005.0,900.0 1005.0,870.6" fill="#a8f8a8" stroke="#1c1c1c" stroke-width="1.9" stroke-linejoin="round" /><polygon points="1022.0,777.0 1029.0,777.0 1054.5,872.0 1049.4,884.0" fill="#86ea86" stroke="#1c1c1c" stroke-width="1.9" stroke-linejoin="round" /><polygon points="1262.0,760.0 1231.0,801.0 1215.7,870.6 1215.7,900.0 1262.0,900.0" fill="url(#g3coneR)" stroke="#1c1c1c" stroke-width="1.9" stroke-linejoin="round" /><polygon points="1231.0,801.0 1197.0,777.0 1175.0,881.0 1215.7,900.0 1215.7,870.6" fill="#a8f8a8" stroke="#1c1c1c" stroke-width="1.9" stroke-linejoin="round" /><polygon points="1197.0,777.0 1190.0,777.0 1169.8,881.0 1175.0,881.0" fill="#86ea86" stroke="#1c1c1c" stroke-width="1.9" stroke-linejoin="round" /><path d="M1049.4,884 L1054.5,872 L1045.5,837 Q1110,826 1174.7,837 L1169.8,881 L1175,900 L1049.4,900 Z" fill="#c8fac8" stroke="#1c1c1c" stroke-width="1.8" stroke-linejoin="round" /><path d="M1047,842 Q1110,832 1172,842" fill="none" stroke="#1c1c1c" stroke-width="1.2" stroke-linejoin="round" /><ellipse cx="1110.5" cy="852" rx="31" ry="19" fill="#c8fac8" stroke="#1c1c1c" stroke-width="1.8" /><ellipse cx="1110.5" cy="853" rx="22" ry="11.5" fill="url(#g3hole)" stroke="#1c1c1c" stroke-width="1.8" /><ellipse cx="1110.5" cy="860" rx="13" ry="4" fill="#fff" stroke="#1c1c1c" stroke-width="0" stroke="none"/></g><ellipse cx="1110.5" cy="840" rx="142.5" ry="80" fill="none" stroke="#1c1c1c" stroke-width="1.9" /></g><ellipse cx="1110.5" cy="794" rx="165" ry="92" fill="none" stroke="#1c1c1c" stroke-width="1.9" /><ellipse cx="1110.5" cy="798" rx="180" ry="103.5" fill="none" stroke="#1c1c1c" stroke-width="1.8" /><g fill="#1f5fbf" opacity="0.07" style="font-family:'Liberation Sans',sans-serif;font-weight:bold"><text x="444" y="686" font-size="306" textLength="149" lengthAdjust="spacingAndGlyphs">c</text><text x="597" y="686" font-size="235" textLength="155" lengthAdjust="spacingAndGlyphs">a</text><text x="756" y="686" font-size="224" textLength="114" lengthAdjust="spacingAndGlyphs">T</text><text x="886" y="686" font-size="224" textLength="41" lengthAdjust="spacingAndGlyphs">I</text><text x="954" y="686" font-size="224" textLength="118" lengthAdjust="spacingAndGlyphs">C</text><text x="1072" y="686" font-size="239" textLength="154" lengthAdjust="spacingAndGlyphs">s</text></g><g fill="#1f5fbf" opacity="0.06" style="font-family:'Liberation Sans',sans-serif"><text x="440" y="781.7" font-size="80" textLength="792" lengthAdjust="spacingAndGlyphs">CAD digital competition</text></g><g opacity="0.045"><path d="M237,652 L101.0,573.5 A157,157 0 0 1 365.6,561.9 Z" fill="#3070d0"/><path d="M237,652 L379.3,585.6 A157,157 0 0 1 250.7,808.4 Z" fill="#e0c040"/><path d="M237,652 L223.3,808.4 A157,157 0 0 1 89.5,598.3 Z" fill="#60a060"/><circle cx="255" cy="695" r="55" fill="#3070d0"/></g><g opacity="1"><circle cx="255" cy="695" r="32" fill="none" stroke="#fff" stroke-width="6" opacity="0.6"/></g></svg>
<div class="t ttl" id="title" style="left:38px;top:22px;font-size:31.5px;">3D05_H06_A</div>
<div class="t cj" id="l1" style="left:241px;top:72px;">题目：参照图构建立体模型，请注意图中的对称、阵列、同心等几何关系。</div>
<div class="t cj red" id="l2" style="left:241px;top:105px;font-weight:bold;">参数：<span class="mono">A=12</span>，<span class="mono">B=72</span>，<span class="mono">C=140</span>，<span class="mono">D=60</span>，<span class="mono">E=7</span>，<span class="mono">F=150</span>，<span class="mono">G=36</span></div>
<div class="t cj" id="l3" style="left:241px;top:138px;">问题：模型体积为多少？</div>
<div class="t cj" id="b1" style="left:47px;top:1155px;">答案：与标准答案相对误差在正负<span class="hw">0.5%</span>以内视为正确。</div>
<div class="t cj" id="b2" style="left:47px;top:1221px;">模型体积为多少？</div>
<div class="t cj red" id="b3" style="left:327px;top:1221px;"><span style="color:#000">（</span><b>标准答案：<span class="mono" style="letter-spacing:3.4px">290174.17</span>）</b></div>
</body></html>
